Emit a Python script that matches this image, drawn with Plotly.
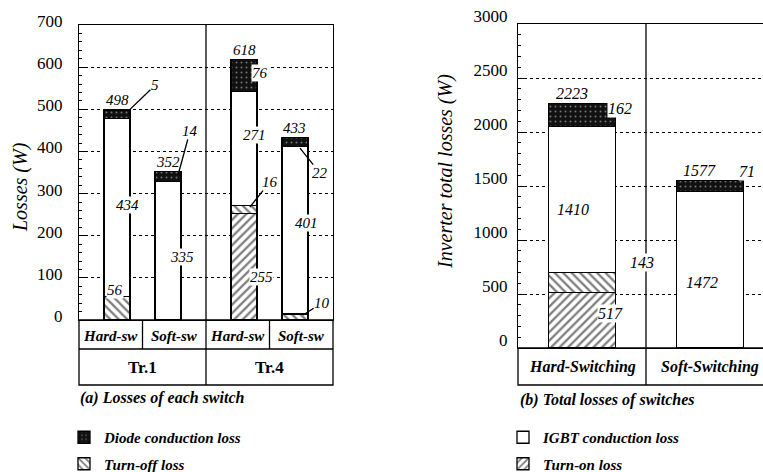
import plotly.graph_objects as go

# ---------------- data ----------------
GROUPS_A = ["Tr.1", "Tr.4"]
MODES_A = ["Hard-sw", "Soft-sw"]
CATS_A = [f"{g} {m}" for g in GROUPS_A for m in MODES_A]
TURN_ON_A = [0, 0, 252, 0]
TURN_OFF_A = [56, 0, 20, 14]
IGBT_A = [422, 328, 271, 397]
DIODE_A = [20, 24, 75, 22]
TOTAL_LABELS_A = ["498", "352", "618", "433"]
SEG_LABELS_A = ["5", "434", "56", "14", "335", "76", "271", "16", "255", "22", "401", "10"]

CATS_B = ["Hard-Switching", "Soft-Switching"]
TURN_ON_B = [517, 0]
TURN_OFF_B = [185, 0]
IGBT_B = [1350, 1448]
DIODE_B = [210, 100]
TOTAL_LABELS_B = ["2223", "1577"]
SEG_LABELS_B = ["162", "1410", "143", "517", "71", "1472"]

TICKS_A = [0, 100, 200, 300, 400, 500, 600, 700]
TICKS_B = [0, 500, 1000, 1500, 2000, 2500, 3000]

NAME_DIODE = "Diode conduction loss"
NAME_TOFF = "Turn-off loss"
NAME_IGBT = "IGBT conduction loss"
NAME_TON = "Turn-on loss"

# ---------------- helpers ----------------
W, H = 763, 472
def fx(p):
    return p / W
def fy(p):
    return 1 - p / H

SERIF = "Liberation Serif, Times New Roman, Times, DejaVu Serif, serif"
BAR_SHIFT_A = [0.10, -0.10, 0.10, -0.10]
WIDTH_A = 0.41
WIDTH_B = 0.52

def styles(kind):
    line = dict(color="black", width=1.3)
    if kind == "on":
        return dict(color="white", line=line,
                    pattern=dict(shape="/", fgcolor="black", bgcolor="white", size=6, solidity=0.38))
    if kind == "off":
        return dict(color="white", line=line,
                    pattern=dict(shape="\\", fgcolor="black", bgcolor="white", size=6, solidity=0.38))
    if kind == "igbt":
        return dict(color="white", line=line)
    return dict(color="#111111", line=line,
                pattern=dict(shape=".", fgcolor="#d8d8d8", bgcolor="#111111", size=5, solidity=0.12))

fig = go.Figure()

series_A = [("on", NAME_TON, TURN_ON_A), ("off", NAME_TOFF, TURN_OFF_A),
            ("igbt", NAME_IGBT, IGBT_A), ("diode", NAME_DIODE, DIODE_A)]
series_B = [("on", NAME_TON, TURN_ON_B), ("off", NAME_TOFF, TURN_OFF_B),
            ("igbt", NAME_IGBT, IGBT_B), ("diode", NAME_DIODE, DIODE_B)]

legend_left = {"diode": 1, "off": 2}
legend_right = {"igbt": 1, "on": 2}

for kind, name, vals in series_A:
    fig.add_trace(go.Bar(
        x=CATS_A, y=vals, name=name, marker=styles(kind),
        width=WIDTH_A, offset=[s - WIDTH_A / 2 for s in BAR_SHIFT_A],
        xaxis="x", yaxis="y",
        showlegend=kind in legend_left, legend="legend",
        legendgroup="a" + kind, legendrank=legend_left.get(kind, 10),
        hoverinfo="skip"))

for kind, name, vals in series_B:
    fig.add_trace(go.Bar(
        x=CATS_B, y=vals, name=name, marker=styles(kind),
        width=WIDTH_B, xaxis="x2", yaxis="y2",
        showlegend=kind in legend_right, legend="legend2",
        legendgroup="b" + kind, legendrank=legend_right.get(kind, 10),
        hoverinfo="skip"))

totals_A = [a + b + c + d for a, b, c, d in zip(TURN_ON_A, TURN_OFF_A, IGBT_A, DIODE_A)]
totals_B = [a + b + c + d for a, b, c, d in zip(TURN_ON_B, TURN_OFF_B, IGBT_B, DIODE_B)]

axis_common = dict(showline=True, linecolor="black", linewidth=1.4,
                   ticks="", showticklabels=False, showgrid=False, zeroline=False,
                   type="category", fixedrange=True)
yaxis_common = dict(showline=True, linecolor="black", linewidth=1.4, zeroline=False,
                    ticks="inside", ticklen=6, tickwidth=1.2, tickcolor="black",
                    showgrid=True, gridcolor="black", gridwidth=1.1, griddash="dot",
                    tickfont=dict(family=SERIF, size=17, color="black"))

legend_font = dict(family=SERIF, size=15, style="italic", weight="bold", color="black")

fig.update_layout(
    width=W, height=H, autosize=False,
    margin=dict(l=0, r=0, t=0, b=0, autoexpand=False),
    paper_bgcolor="white", plot_bgcolor="white",
    barmode="stack", showlegend=True,
    xaxis=dict(axis_common, domain=[fx(79), fx(333)], range=[-0.5, 3.5], mirror=True,
               anchor="y"),
    yaxis=dict(yaxis_common, domain=[fy(320), fy(25)], range=[0, 700], tickvals=TICKS_A,
               mirror=True, anchor="x", ticklabelstandoff=12, ticklabelshift=-4,
               minor=dict(ticks="inside", dtick=20, ticklen=3, tickcolor="black", showgrid=False)),
    xaxis2=dict(axis_common, domain=[fx(518), 1.0], range=[-0.5, -0.5 + (W - 518) / 128], mirror=True,
                anchor="y2"),
    yaxis2=dict(yaxis_common, domain=[fy(348), fy(24)], range=[0, 3000], tickvals=TICKS_B,
                mirror=False, anchor="x2", ticklabelstandoff=6, ticklabelshift=-8,
                minor=dict(ticks="inside", dtick=100, ticklen=3, tickcolor="black", showgrid=False)),
    legend=dict(x=fx(64), y=fy(421), xanchor="left", yanchor="top",
                bgcolor="rgba(0,0,0,0)", tracegroupgap=4, traceorder="grouped", font=legend_font),
    legend2=dict(x=fx(503), y=fy(421), xanchor="left", yanchor="top",
                 bgcolor="rgba(0,0,0,0)", tracegroupgap=4, traceorder="grouped", font=legend_font),
)

# ---------------- category boxes / dividers ----------------
blk = dict(color="black", width=1.3)
shapes = [
    dict(type="rect", xref="paper", yref="paper", x0=fx(79), x1=fx(333), y0=fy(385), y1=fy(320), line=blk),
    dict(type="line", xref="paper", yref="paper", x0=fx(79), x1=fx(333), y0=fy(349), y1=fy(349), line=blk),
    dict(type="line", xref="x", yref="paper", x0=0.5, x1=0.5, y0=fy(349), y1=fy(320), line=blk),
    dict(type="line", xref="x", yref="paper", x0=2.5, x1=2.5, y0=fy(349), y1=fy(320), line=blk),
    dict(type="line", xref="x", yref="paper", x0=1.5, x1=1.5, y0=fy(385), y1=fy(25), line=blk),
    dict(type="rect", xref="paper", yref="paper", x0=fx(518), x1=1.05, y0=fy(385), y1=fy(348), line=blk),
    dict(type="line", xref="x2", yref="paper", x0=0.5, x1=0.5, y0=fy(385), y1=fy(24), line=blk),
]
fig.update_layout(shapes=shapes)

ann = []
def label_font(size=14, bold=False, italic=True):
    return dict(family=SERIF, size=size, color="black",
                style="italic" if italic else "normal", weight="bold" if bold else "normal")

def A(**kw):
    kw.setdefault("xanchor", "center")
    kw.setdefault("yanchor", "middle")
    return kw

# category texts
for i, c in enumerate(CATS_A):
    ann.append(A(xref="x", yref="paper", x=i, y=fy(336), text=MODES_A[i % 2], showarrow=False,
                 font=label_font(15, bold=True)))
for j, g in enumerate(GROUPS_A):
    ann.append(A(xref="x", yref="paper", x=2 * j + 0.5, y=fy(367), text=g, showarrow=False,
                 font=label_font(17, bold=True, italic=False)))
for i, c in enumerate(CATS_B):
    ann.append(A(xref="x2", yref="paper", x=i, y=fy(367), text=c, showarrow=False,
                 font=label_font(16, bold=True)))

# captions and axis titles
ann.append(A(xref="paper", yref="paper", x=fx(78), y=fy(398), xanchor="left",
             text="(a) Losses of each switch", showarrow=False, font=label_font(16, bold=True)))
ann.append(A(xref="paper", yref="paper", x=fx(518), y=fy(400), xanchor="left",
             text="(b) Total losses of switches", showarrow=False, font=label_font(16, bold=True)))
ann.append(A(xref="paper", yref="paper", x=fx(21), y=fy(187), textangle=-90,
             text="Losses (W)", showarrow=False, font=label_font(20)))
ann.append(A(xref="paper", yref="paper", x=fx(446), y=fy(172), textangle=-90,
             text="Inverter total losses (W)", showarrow=False, font=label_font(20)))

# totals
for i, t in enumerate(TOTAL_LABELS_A):
    ann.append(A(xref="x", yref="y", x=i + BAR_SHIFT_A[i], y=totals_A[i], yanchor="bottom", yshift=0,
                 text=t, showarrow=False, font=label_font(15)))
for i, t in enumerate(TOTAL_LABELS_B):
    ann.append(A(xref="x2", yref="y2", x=i - 0.08, y=totals_B[i], yanchor="bottom", yshift=0,
                 text=t, showarrow=False, font=label_font(16)))

# segment labels (left): (x, y, ax, ay) -- ax/ay None means no leader
pos_A = [(0.27, 495, 27, -26), (0.27, 273, None, None), (0.067, 71, None, None),
         (1.06, 344, 12, -44), (1.12, 150, None, None), (2.35, 586, None, None),
         (2.27, 439, None, None), (2.19, 268, 20, -25), (2.38, 102, None, None),
         (2.98, 408, 20, 25), (3.09, 230, None, None), (3.03, 12, 19, -12)]
for t, (x, y, ax, ay) in zip(SEG_LABELS_A, pos_A):
    a = A(xref="x", yref="y", x=x, y=y, text=t, font=label_font(15), bgcolor="white", borderpad=0)
    if ax is None:
        a["showarrow"] = False
    else:
        a.update(showarrow=True, arrowhead=0, arrowwidth=1.3, arrowcolor="black", ax=ax, ay=ay, standoff=0)
        a["bgcolor"] = "rgba(0,0,0,0)"
    ann.append(a)

pos_B = [(0.297, 2222), (-0.07, 1278), (0.47, 796), (0.22, 324), (1.29, 1630), (0.94, 611)]
for t, (x, y) in zip(SEG_LABELS_B, pos_B):
    ann.append(A(xref="x2", yref="y2", x=x, y=y, text=t, showarrow=False,
                 font=label_font(16), bgcolor="white", borderpad=0))

fig.update_layout(annotations=ann)

fig.write_html("out.html")
